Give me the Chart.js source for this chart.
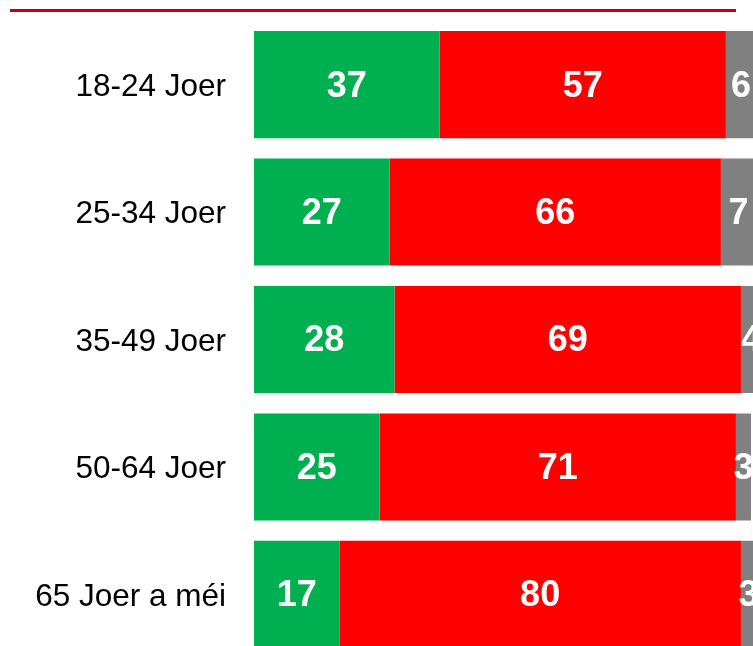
<!DOCTYPE html>
<html>
<head>
<meta charset="utf-8">
<script src="https://cdn.jsdelivr.net/npm/chart.js@4"></script>
<style>
  html, body { margin: 0; padding: 0; overflow: hidden; background: #fff; }
  #wrap { position: relative; width: 753px; height: 646px; overflow: hidden; }
  #topline { position: absolute; left: 10px; top: 9px; width: 726px; height: 3px; background: #c20018; z-index: 2; }
  canvas { position: absolute; left: 0; top: -26px; }
</style>
</head>
<body>
<div id="wrap">
  <div id="topline"></div>
  <canvas id="bar-chart" width="760" height="731"></canvas>
</div>
<script>
var ageGroups = ['18-24 Joer', '25-34 Joer', '35-49 Joer', '50-64 Joer', '65 Joer a méi'];
var greenValues = [37, 27, 28, 25, 17];
var redValues = [57, 66, 69, 71, 80];
var greyValues = [6, 7, 4, 3, 3];

// writes the value in the middle of every bar segment
var valueLabels = {
  id: 'valueLabels',
  afterDatasetsDraw: function (chart) {
    var ctx = chart.ctx;
    ctx.save();
    ctx.fillStyle = '#ffffff';
    ctx.font = 'bold 36px "Liberation Sans", Arial, sans-serif';
    ctx.textAlign = 'center';
    ctx.textBaseline = 'middle';
    chart.data.datasets.forEach(function (ds, i) {
      chart.getDatasetMeta(i).data.forEach(function (bar, j) {
        var p = bar.getProps(['x', 'base', 'y'], true);
        ctx.fillText(ds.data[j], (p.x + p.base) / 2, p.y + 2);
      });
    });
    ctx.restore();
  }
};

var data = {
  labels: ageGroups,
  datasets: [
    { data: greenValues, backgroundColor: '#00b050' },
    { data: redValues, backgroundColor: '#ff0000' },
    { data: greyValues, backgroundColor: '#808080' }
  ]
};

var config = {
  type: 'bar',
  data: data,
  options: {
    indexAxis: 'y',
    responsive: false,
    animation: false,
    devicePixelRatio: 1,
    layout: { padding: { top: 0, bottom: 0, left: 0, right: 4 } },
    datasets: {
      bar: { categoryPercentage: 1, barPercentage: 0.84, borderWidth: 0 }
    },
    plugins: {
      legend: { display: false },
      tooltip: { enabled: false }
    },
    scales: {
      x: {
        stacked: true,
        display: false,
        min: 0,
        max: 100
      },
      y: {
        stacked: true,
        grid: { display: false, drawTicks: false },
        border: { display: false },
        ticks: {
          color: '#000000',
          padding: 28,
          labelOffset: 2.5,
          font: { family: '"Liberation Sans", Arial, sans-serif', size: 31.5 }
        },
        afterFit: function (scale) { scale.width = 254; }
      }
    }
  },
  plugins: [valueLabels]
};

var ctx = document.getElementById('bar-chart').getContext('2d');
new Chart(ctx, config);
</script>
</body>
</html>
